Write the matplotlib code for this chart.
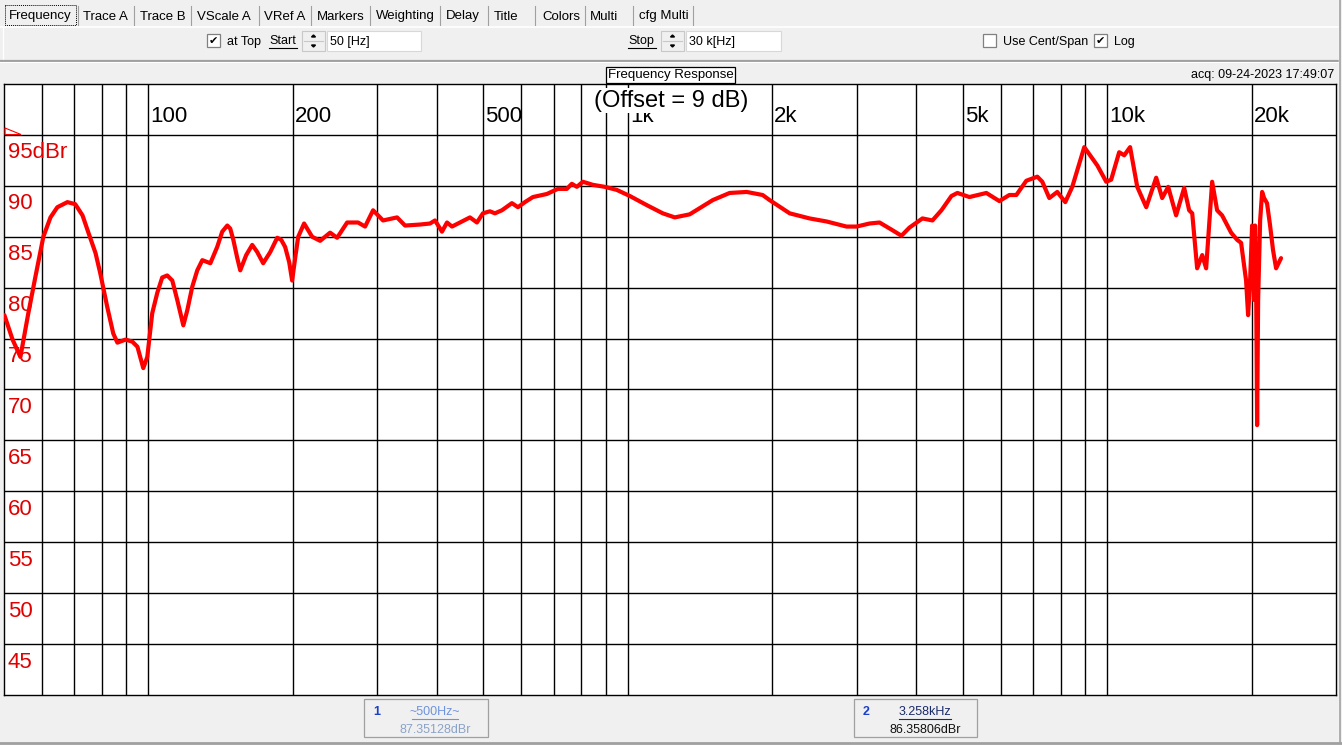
"""Frequency response screenshot: red dBr trace on a log frequency grid."""

import matplotlib

matplotlib.use("Agg")
import matplotlib.pyplot as plt
from matplotlib.patches import Polygon, Rectangle
from matplotlib.ticker import NullLocator

W, H = 1342, 745

# trace values
FREQ_HZ = [
    50.1, 52.1, 54.1, 56.2, 58.1, 60.4, 62.5, 64.6, 67.8, 70.4,
    72.9, 75.0, 77.6, 79.4, 82.1, 84.5, 86.2, 89.6, 92.6, 94.9,
    97.6, 99.5, 101.9, 104.4, 106.9, 109.5, 112.2, 114.9, 118.3, 120.6,
    123.5, 126.5, 129.6, 134.7, 139.2, 142.6, 146.1, 148.2, 150.4, 153.3,
    155.5, 160.0, 164.7, 168.7, 173.6, 179.6, 185.7, 189.3, 192.9, 196.7,
    199.5, 202.4, 205.4, 211.3,
    219.6, 228.2, 239.4, 247.6, 259.8, 273.8, 283.2, 294.3, 308.7, 330.2,
    343.1, 368.8, 386.8, 396.2, 409.7, 419.7, 429.9, 446.7, 468.6, 484.6,
    498.7, 515.8, 528.3, 546.4, 573.2, 590.1, 610.2, 634.1, 678.0, 714.8,
    746.3, 764.4, 783.0, 805.9, 845.4, 895.5, 948.5, 1010, 1096, 1183,
    1253, 1346, 1504, 1631, 1770, 1911, 1976, 2176, 2394, 2598,
    2859, 3000, 3193, 3350, 3548, 3722, 3868, 4117, 4319, 4510,
    4732, 4870, 5159, 5596, 5957, 6249, 6463, 6780, 7148, 7321,
    7571, 7867, 8175, 8454, 8955, 9305, 9535, 9952, 10190, 10590,
    10850, 11160, 11550, 12060, 12650, 13020, 13400, 13920, 14470, 14820,
    15040, 15400, 15780, 16080, 16550, 16950, 17360, 18130, 18660, 19020,
    19480, 19670, 19860, 20050, 20240, 20340, 20440, 20540, 20640, 20840,
    21040, 21240, 21540, 21860, 22170, 22500, 22820, 23040,
]
LEVEL_DBR = [
    77.3, 74.9, 73.2, 77.5, 81.0, 85.0, 86.9, 87.9, 88.4, 88.2,
    87.1, 85.4, 83.4, 81.4, 78.1, 75.5, 74.6, 74.9, 74.7, 74.2,
    72.1, 73.2, 77.5, 79.5, 81.0, 81.2, 80.7, 78.8, 76.3, 77.8,
    80.1, 81.7, 82.7, 82.4, 84.0, 85.5, 86.1, 85.8, 84.7, 82.9,
    81.7, 83.2, 84.2, 83.5, 82.4, 83.5, 84.9, 84.7, 84.0, 82.5,
    80.7, 82.9, 85.0, 86.3,
    85.0, 84.6, 85.4, 84.9, 86.4, 86.4, 86.0, 87.6, 86.6, 86.9,
    86.1, 86.2, 86.3, 86.6, 85.5, 86.4, 86.0, 86.4, 86.9, 86.4,
    87.3, 87.5, 87.3, 87.6, 88.3, 87.9, 88.4, 88.9, 89.2, 89.7,
    89.7, 90.2, 89.9, 90.4, 90.1, 89.9, 89.6, 89.0, 88.1, 87.3,
    86.9, 87.2, 88.6, 89.3, 89.4, 89.1, 88.6, 87.3, 86.8, 86.5,
    86.0, 86.0, 86.3, 86.4, 85.7, 85.1, 85.9, 86.8, 86.6, 87.6,
    89.0, 89.3, 88.9, 89.3, 88.5, 89.1, 89.1, 90.5, 90.9, 90.4,
    88.8, 89.4, 88.4, 89.9, 93.8, 92.7, 92.0, 90.4, 90.6, 93.3,
    93.0, 93.8, 89.9, 87.9, 90.8, 88.8, 89.9, 87.1, 89.8, 87.6,
    87.3, 81.9, 83.2, 81.9, 90.4, 87.6, 87.1, 85.4, 84.7, 84.4,
    80.7, 77.3, 80.7, 86.1, 78.8, 86.1, 80.7, 66.5, 78.8, 86.6,
    89.4, 88.8, 88.3, 86.1, 83.7, 81.9, 82.5, 82.9,
]

FREQ_RANGE = (50, 30000)
LEVEL_RANGE = (40, 100)
GRID_FREQS = [60, 70, 80, 90, 100, 200, 300, 400, 500, 600, 700, 800, 900,
              1000, 2000, 3000, 4000, 5000, 6000, 7000, 8000, 9000, 10000, 20000]
FREQ_TICKS = [100, 200, 500, 1000, 2000, 5000, 10000, 20000]
FREQ_TICK_LABELS = ["100", "200", "500", "1k", "2k", "5k", "10k", "20k"]
LEVEL_TICKS = [95, 90, 85, 80, 75, 70, 65, 60, 55, 50, 45]
LEVEL_TICK_LABELS = ["95dBr", "90", "85", "80", "75", "70", "65", "60", "55", "50", "45"]

TAB_NAMES = ["Frequency", "Trace A", "Trace B", "VScale A", "VRef A", "Markers",
             "Weighting", "Delay", "Title", "Colors", "Multi", "cfg Multi"]
TAB_TEXT_X = [9, 83, 140, 197, 264, 317, 376, 446, 494, 542, 590, 639]
TAB_SEPARATORS = [78, 134, 191, 259, 311, 370, 440, 488, 535, 585, 633, 693]

MARKER_IDS = ["1", "2"]
MARKER_FREQS = ["~500Hz~", "3.258kHz"]
MARKER_LEVELS = ["87.35128dBr", "86.35806dBr"]

RED = "#ff0000"
LABEL_RED = "#e00000"
UI_BG = "#f0f0f0"
UI_EDGE = "#a0a0a0"

plt.rcParams["font.family"] = ["Liberation Sans", "DejaVu Sans"]


def _checkbox(ui, x, y, checked):
    ui.add_patch(Rectangle((x, y), 13, 13, facecolor="white", edgecolor="#808080", linewidth=0.9))
    if checked:
        ui.text(x + 6.5, y + 7, "\u2714", ha="center", va="center", fontsize=8,
                family="DejaVu Sans", color="black")


def _spin(ui, x, y):
    ui.add_patch(Rectangle((x, y), 23, 20, facecolor=UI_BG, edgecolor="#c8c8c8", linewidth=0.8))
    ui.plot([x + 2, x + 21], [y + 10, y + 10], color="#c8c8c8", linewidth=0.8)
    cx = x + 11.5
    ui.add_patch(Polygon([(cx - 2, y + 6), (cx + 2, y + 6), (cx, y + 4)], color="black"))
    ui.add_patch(Polygon([(cx - 2, y + 14), (cx + 2, y + 14), (cx, y + 16)], color="black"))


def _textbox(ui, x, y, width, text):
    ui.add_patch(Rectangle((x, y), width, 20, facecolor="white", edgecolor="#d8d8d8", linewidth=0.8))
    ui.text(x + 3, y + 11.5, text, ha="left", va="center", fontsize=9)


def _underlined(ui, x, y, text, width):
    ui.text(x, y, text, ha="left", va="center", fontsize=9)
    ui.plot([x, x + width], [y + 7, y + 7], color="black", linewidth=0.8)


def _draw_toolbar(ui):
    # tab strip
    for sep in TAB_SEPARATORS:
        ui.plot([sep, sep], [6, 25], color=UI_EDGE, linewidth=0.8)
    for name, x in zip(TAB_NAMES, TAB_TEXT_X):
        ui.text(x, 16.5, name, ha="left", va="center", fontsize=9.5)
    ui.add_patch(Rectangle((5, 5), 71, 20, fill=False, edgecolor="black",
                           linewidth=0.7, linestyle=(0, (1, 1))))
    ui.plot([0, 1338], [27, 27], color="white", linewidth=1.2)
    ui.plot([3, 3], [27, 60], color="white", linewidth=1.0)

    # range row
    _checkbox(ui, 207, 34, True)
    ui.text(227, 42, "at Top", ha="left", va="center", fontsize=9)
    _underlined(ui, 269, 41, "Start", 28)
    _spin(ui, 302, 31)
    _textbox(ui, 327, 31, 94, "50 [Hz]")
    _underlined(ui, 628, 41, "Stop", 28)
    _spin(ui, 661, 31)
    _textbox(ui, 686, 31, 95, "30 k[Hz]")
    _checkbox(ui, 983, 34, False)
    ui.text(1003, 42, "Use Cent/Span", ha="left", va="center", fontsize=9)
    _checkbox(ui, 1094, 34, True)
    ui.text(1114, 42, "Log", ha="left", va="center", fontsize=9)

    ui.plot([0, 1338], [60.5, 60.5], color=UI_EDGE, linewidth=1.6)
    ui.plot([0, 1338], [62, 62], color="white", linewidth=0.8)

    # title strip
    ui.text(670.5, 75, "Frequency Response", ha="center", va="center", fontsize=9.5,
            bbox=dict(boxstyle="square,pad=0.15", facecolor="white", edgecolor="black", linewidth=0.9))
    ui.text(1334, 75, "acq: 09-24-2023 17:49:07", ha="right", va="center", fontsize=9)

    # right and bottom window edges
    ui.plot([1338.5, 1338.5], [0, 743], color="white", linewidth=1.0)
    ui.plot([1340, 1340], [0, 743], color=UI_EDGE, linewidth=1.2)
    ui.plot([0, 1342], [742.5, 742.5], color=UI_EDGE, linewidth=2.0)


def _draw_marker_boxes(ui):
    boxes = [(364, 124), (854, 123)]
    id_colors = ["#1a3fc8", "#1a3fc8"]
    freq_colors = ["#6f93dc", "#1a2a6a"]
    level_colors = ["#8ba3c8", "#111111"]
    for (x, width), mid, freq, level, ic, fc, lc in zip(
        boxes, MARKER_IDS, MARKER_FREQS, MARKER_LEVELS, id_colors, freq_colors, level_colors
    ):
        ui.add_patch(Rectangle((x, 699), width, 38, facecolor=UI_BG, edgecolor=UI_EDGE, linewidth=0.9))
        ui.text(x + 9, 712, mid, ha="left", va="center", fontsize=9, color=ic, fontweight="bold")
        centre = x + 71
        ui.text(centre, 712, freq, ha="center", va="center", fontsize=9, color=fc)
        half = len(freq) * 3.3
        ui.plot([centre - half, centre + half], [719, 719], color=fc, linewidth=0.8)
        ui.text(centre, 730, level, ha="center", va="center", fontsize=9, color=lc)


def _draw_response(ax):
    ax.set_xscale("log")
    ax.set_xlim(*FREQ_RANGE)
    ax.set_ylim(*LEVEL_RANGE)
    ax.xaxis.set_major_locator(NullLocator())
    ax.xaxis.set_minor_locator(NullLocator())
    ax.yaxis.set_major_locator(NullLocator())
    for spine in ax.spines.values():
        spine.set_linewidth(1.0)
        spine.set_color("black")

    for freq in GRID_FREQS:
        ax.axvline(freq, color="black", linewidth=1.0, zorder=1)
    for level in LEVEL_TICKS:
        ax.axhline(level, color="black", linewidth=1.0, zorder=1)

    for freq, label in zip(FREQ_TICKS, FREQ_TICK_LABELS):
        ax.annotate(label, xy=(freq, 1), xycoords=("data", "axes fraction"),
                    xytext=(2, -32), textcoords="offset pixels",
                    ha="left", va="center", fontsize=16, color="black", zorder=2)
    for level, label in zip(LEVEL_TICKS, LEVEL_TICK_LABELS):
        ax.annotate(label, xy=(0, level), xycoords=("axes fraction", "data"),
                    xytext=(4, -18), textcoords="offset pixels",
                    ha="left", va="center", fontsize=16, color=LABEL_RED, zorder=2)

    ax.plot(FREQ_HZ, LEVEL_DBR, color=RED, linewidth=3.0,
            solid_joinstyle="round", solid_capstyle="round", zorder=3)


def main():
    fig = plt.figure(figsize=(W / 100, H / 100), dpi=100, facecolor=UI_BG)

    ax = fig.add_axes([4 / W, 1 - 695 / H, 1332 / W, 611 / H], facecolor="white", zorder=1)
    _draw_response(ax)

    ui = fig.add_axes([0, 0, 1, 1], zorder=2)
    ui.set_xlim(0, W)
    ui.set_ylim(H, 0)
    ui.axis("off")
    ui.patch.set_alpha(0)

    _draw_toolbar(ui)
    _draw_marker_boxes(ui)

    # reference-level wedge and offset note drawn over the plot
    ui.add_patch(Polygon([(5, 128), (21, 134.5), (5, 134.5)], closed=True, fill=False,
                         edgecolor=RED, linewidth=0.8))
    ui.text(671, 100.5, "(Offset = 9 dB)", ha="center", va="center", fontsize=17,
            bbox=dict(boxstyle="square,pad=0.05", facecolor="white", edgecolor="none"))

    fig.savefig("out.png", dpi=100, facecolor=fig.get_facecolor())


if __name__ == "__main__":
    main()
